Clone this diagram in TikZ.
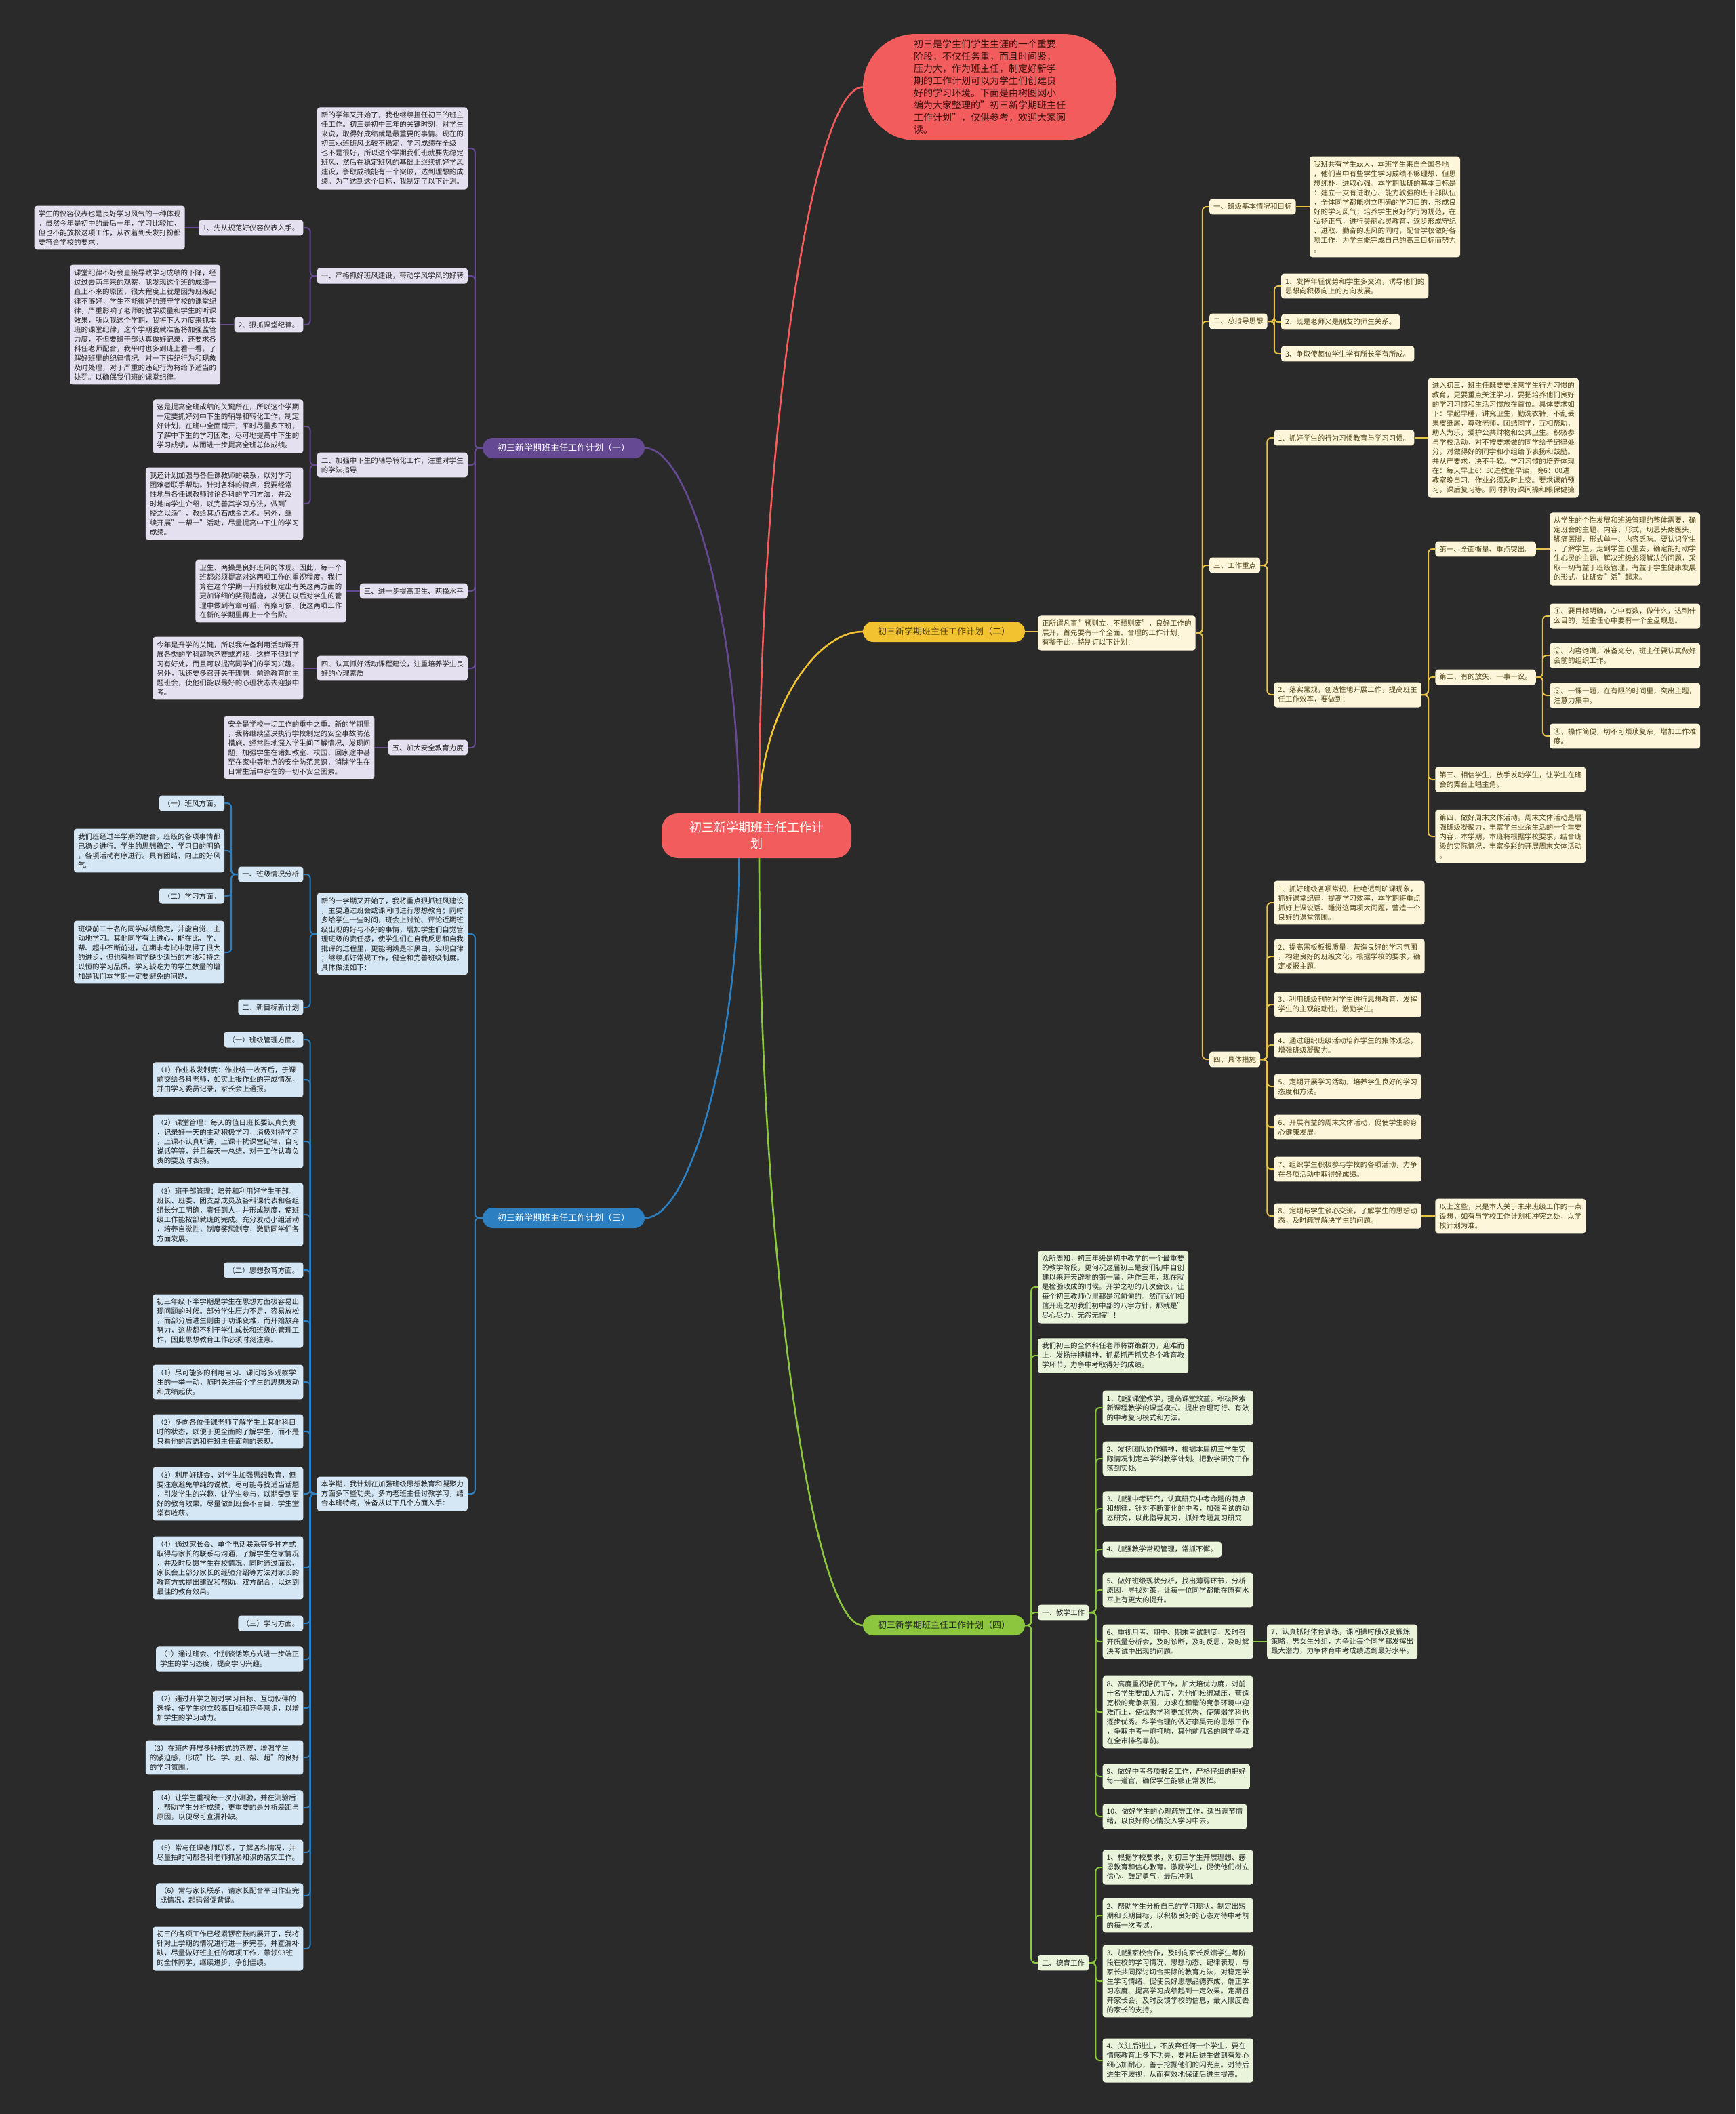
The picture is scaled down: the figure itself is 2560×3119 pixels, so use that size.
\documentclass[tikz,border=0pt]{standalone}
\usepackage{fontspec}
\setmainfont{Noto Sans CJK SC}
\usetikzlibrary{calc}
\definecolor{bgc}{HTML}{2A2A2A}
\definecolor{redc}{HTML}{F25C5C}
\definecolor{introtext}{HTML}{3A1010}
\definecolor{pcol}{HTML}{654A93}
\definecolor{pfill}{HTML}{E5E0EF}
\definecolor{ptext}{HTML}{262626}
\definecolor{ycol}{HTML}{F2C230}
\definecolor{yline}{HTML}{E9C24A}
\definecolor{yfill}{HTML}{FDF6DA}
\definecolor{ytext}{HTML}{4F4215}
\definecolor{bcol}{HTML}{2C7FC0}
\definecolor{bfill}{HTML}{D5E7F5}
\definecolor{btext}{HTML}{1E1E1E}
\definecolor{gcol}{HTML}{8CC63F}
\definecolor{gfill}{HTML}{E9F4DA}
\definecolor{gtext}{HTML}{262626}
\tikzset{
  boxbase/.style={rounded corners=4pt, inner xsep=6pt, inner ysep=6.5pt, align=left, font=\fontsize{10.5}{14}\selectfont},
  pbox/.style={boxbase, fill=pfill, text=ptext},
  ybox/.style={boxbase, fill=yfill, text=ytext},
  bbox/.style={boxbase, fill=bfill, text=btext},
  gbox/.style={boxbase, fill=gfill, text=gtext},
  pillnode/.style={rounded corners=15pt, minimum width=239pt, minimum height=30pt, inner sep=0pt, font=\fontsize{13}{16}\selectfont},
  ctrnode/.style={fill=redc, text=white, rounded corners=24pt, minimum width=280pt, minimum height=66pt, align=center, font=\fontsize{18}{24}\selectfont},
  intronode/.style={fill=redc, text=introtext, rounded corners=78pt, minimum width=374pt, minimum height=157pt, align=left, font=\fontsize{14}{18}\selectfont},
  plink/.style={draw=pcol, line width=2pt, rounded corners=6pt},
  ylink/.style={draw=yline, line width=2pt, rounded corners=6pt},
  blink/.style={draw=bcol, line width=2pt, rounded corners=6pt},
  glink/.style={draw=gcol, line width=2pt, rounded corners=6pt},
  mainlink/.style={line width=2.6pt}
}
\begin{document}
\begin{tikzpicture}[x=1pt,y=-1pt]
\fill[bgc] (0,0) rectangle (2560,3119);
\useasboundingbox (0,0) rectangle (2560,3119);

% ---------- root and intro ----------
\node[ctrnode] (ctr) at (1116,1233) {初三新学期班主任工作计\\划};
\node[intronode] (intro) at (1460,128.5) {初三是学生们学生生涯的一个重要\\阶段，不仅任务重，而且时间紧，\\压力大，作为班主任，制定好新学\\期的工作计划可以为学生们创建良\\好的学习环境。下面是由树图网小\\编为大家整理的"初三新学期班主任\\工作计划"，仅供参考，欢迎大家阅\\读。};

\node[pillnode, fill=pcol, text=white] (b1) at (831.5,661) {初三新学期班主任工作计划（一）};
\node[pillnode, fill=ycol, text=ytext] (b2) at (1392.5,932) {初三新学期班主任工作计划（二）};
\node[pillnode, fill=bcol, text=white] (b3) at (831.5,1797) {初三新学期班主任工作计划（三）};
\node[pillnode, fill=gcol, text=gtext] (b4) at (1392.5,2398) {初三新学期班主任工作计划（四）};

\coordinate (cL1) at ($(ctr.north)+(-26pt,0)$);
\coordinate (cR1) at ($(ctr.north)+(4pt,0)$);
\coordinate (cL2) at ($(ctr.south)+(-26pt,0)$);
\coordinate (cR2) at ($(ctr.south)+(4pt,0)$);
\draw[mainlink, draw=redc] (cR1) .. controls ($(cR1)!0.5!(cR1 |- intro.west)$) and ($(intro.west)!0.5!(cR1 |- intro.west)$) .. (intro.west);
\draw[mainlink, draw=ycol] (cR1) .. controls ($(cR1)!0.5!(cR1 |- b2.west)$) and ($(b2.west)!0.5!(cR1 |- b2.west)$) .. (b2.west);
\draw[mainlink, draw=pcol] (cL1) .. controls ($(cL1)!0.5!(cL1 |- b1.east)$) and ($(b1.east)!0.5!(cL1 |- b1.east)$) .. (b1.east);
\draw[mainlink, draw=bcol] (cL2) .. controls ($(cL2)!0.5!(cL2 |- b3.east)$) and ($(b3.east)!0.5!(cL2 |- b3.east)$) .. (b3.east);
\draw[mainlink, draw=gcol] (cR2) .. controls ($(cR2)!0.5!(cR2 |- b4.west)$) and ($(b4.west)!0.5!(cR2 |- b4.west)$) .. (b4.west);

% ---------- branch (一) ----------
\node[pbox, anchor=east] (p0) at (690,219) {新的学年又开始了，我也继续担任初三的班主\\任工作。初三是初中三年的关键时刻，对学生\\来说，取得好成绩就是最重要的事情。现在的\\初三xx班班风比较不稳定，学习成绩在全级\\也不是很好，所以这个学期我们班就要先稳定\\班风，然后在稳定班风的基础上继续抓好学风\\建设，争取成绩能有一个突破，达到理想的成\\绩。为了达到这个目标，我制定了以下计划。};
\node[pbox, anchor=east] (p1) at (690,407) {一、严格抓好班风建设，带动学风学风的好转};
\node[pbox, anchor=east] (p1a) at ($(p1.west |- 0,336)+(-20pt,0)$) {1、先从规范好仪容仪表入手。};
\node[pbox, anchor=east] (p1an) at ([xshift=-20pt]p1a.west) {学生的仪容仪表也是良好学习风气的一种体现\\。虽然今年是初中的最后一年，学习比较忙，\\但也不能放松这项工作，从衣着到头发打扮都\\要符合学校的要求。};
\node[pbox, anchor=east] (p1b) at ($(p1.west |- 0,479)+(-20pt,0)$) {2、狠抓课堂纪律。};
\node[pbox, anchor=east] (p1bn) at ([xshift=-20pt]p1b.west) {课堂纪律不好会直接导致学习成绩的下降，经\\过过去两年来的观察，我发现这个班的成绩一\\直上不来的原因，很大程度上就是因为班级纪\\律不够好，学生不能很好的遵守学校的课堂纪\\律，严重影响了老师的教学质量和学生的听课\\效果，所以我这个学期，我将下大力度来抓本\\班的课堂纪律，这个学期我就准备将加强监管\\力度，不但要班干部认真做好记录，还要求各\\科任老师配合，我平时也多到班上看一看，了\\解好班里的纪律情况。对一下违纪行为和现象\\及时处理，对于严重的违纪行为将给予适当的\\处罚。以确保我们班的课堂纪律。};
\node[pbox, anchor=east] (p2) at (690,686) {二、加强中下生的辅导转化工作，注重对学生\\的学法指导};
\node[pbox, anchor=east] (p2a) at ($(p2.west |- 0,629)+(-20pt,0)$) {这是提高全班成绩的关键所在，所以这个学期\\一定要抓好对中下生的辅导和转化工作，制定\\好计划，在班中全面铺开，平时尽量多下班，\\了解中下生的学习困难，尽可地提高中下生的\\学习成绩，从而进一步提高全班总体成绩。};
\node[pbox, anchor=east] (p2b) at ($(p2.west |- 0,743)+(-20pt,0)$) {我还计划加强与各任课教师的联系，以对学习\\困难者联手帮助。针对各科的特点，我要经常\\性地与各任课教师讨论各科的学习方法，并及\\时地向学生介绍，以完善其学习方法，做到"\\授之以渔"，教给其点石成金之术。另外，继\\续开展"一帮一"活动，尽量提高中下生的学习\\成绩。};
\node[pbox, anchor=east] (p3) at (690,872) {三、进一步提高卫生、两操水平};
\node[pbox, anchor=east] (p3n) at ([xshift=-20pt]p3.west) {卫生、两操是良好班风的体现。因此，每一个\\班都必须提高对这两项工作的重视程度。我打\\算在这个学期一开始就制定出有关这两方面的\\更加详细的奖罚措施，以便在以后对学生的管\\理中做到有章可循、有案可依，使这两项工作\\在新的学期里再上一个台阶。};
\node[pbox, anchor=east] (p4) at (690,986) {四、认真抓好活动课程建设，注重培养学生良\\好的心理素质};
\node[pbox, anchor=east] (p4n) at ([xshift=-20pt]p4.west) {今年是升学的关键，所以我准备利用活动课开\\展各类的学科趣味竞赛或游戏，这样不但对学\\习有好处，而且可以提高同学们的学习兴趣。\\另外，我还要多召开关于理想，前途教育的主\\题班会，使他们能以最好的心理状态去迎接中\\考。};
\node[pbox, anchor=east] (p5) at (690,1103) {五、加大安全教育力度};
\node[pbox, anchor=east] (p5n) at ([xshift=-20pt]p5.west) {安全是学校一切工作的重中之重。新的学期里\\，我将继续坚决执行学校制定的安全事故防范\\措施，经常性地深入学生间了解情况、发现问\\题，加强学生在诸如教室、校园、回家途中甚\\至在家中等地点的安全防范意识，消除学生在\\日常生活中存在的一切不安全因素。};

\foreach \c in {p0,p1,p2,p3,p4,p5} \draw[plink] (b1.west) -- ++(-11pt,0) |- (\c.east);
\draw[plink] (p1.west) -- ++(-10pt,0) |- (p1a.east);
\draw[plink] (p1.west) -- ++(-10pt,0) |- (p1b.east);
\draw[plink] (p1a.west) -- (p1an.east);
\draw[plink] (p1b.west) -- (p1bn.east);
\draw[plink] (p2.west) -- ++(-10pt,0) |- (p2a.east);
\draw[plink] (p2.west) -- ++(-10pt,0) |- (p2b.east);
\draw[plink] (p3.west) -- (p3n.east);
\draw[plink] (p4.west) -- (p4n.east);
\draw[plink] (p5.west) -- (p5n.east);

% ---------- branch (二) ----------
\node[ybox, anchor=west] (y0) at (1531,934) {正所谓凡事"预则立，不预则废"，良好工作的\\展开，首先要有一个全面、合理的工作计划，\\有鉴于此，特制订以下计划：};
\node[ybox, anchor=west] (y1) at ($(y0.east |- 0,305)+(20pt,0)$) {一、班级基本情况和目标};
\node[ybox, anchor=west] (y1n) at ([xshift=20pt]y1.east) {我班共有学生xx人，本班学生来自全国各地\\，他们当中有些学生学习成绩不够理想，但思\\想纯朴，进取心强。本学期我班的基本目标是\\：建立一支有进取心、能力较强的班干部队伍\\，全体同学都能树立明确的学习目的，形成良\\好的学习风气；培养学生良好的行为规范，在\\弘扬正气，进行美丽心灵教育，逐步形成守纪\\、进取、勤奋的班风的同时，配合学校做好各\\项工作，为学生能完成自己的高三目标而努力\\。};
\node[ybox, anchor=west] (y2) at ($(y0.east |- 0,474)+(20pt,0)$) {二、总指导思想};
\node[ybox, anchor=west] (y2a) at ($(y2.east |- 0,422)+(20pt,0)$) {1、发挥年轻优势和学生多交流，诱导他们的\\思想向积极向上的方向发展。};
\node[ybox, anchor=west] (y2b) at ($(y2.east |- 0,475)+(20pt,0)$) {2、既是老师又是朋友的师生关系。};
\node[ybox, anchor=west] (y2c) at ($(y2.east |- 0,522)+(20pt,0)$) {3、争取使每位学生学有所长学有所成。};
\node[ybox, anchor=west] (y3) at ($(y0.east |- 0,834)+(20pt,0)$) {三、工作重点};
\node[ybox, anchor=west] (y3a) at ($(y3.east |- 0,646)+(20pt,0)$) {1、抓好学生的行为习惯教育与学习习惯。};
\node[ybox, anchor=west] (y3an) at ([xshift=20pt]y3a.east) {进入初三，班主任既要要注意学生行为习惯的\\教育，更要重点关注学习，要把培养他们良好\\的学习习惯和生活习惯放在首位。具体要求如\\下：早起早睡，讲究卫生，勤洗衣裤，不乱丢\\果皮纸屑，尊敬老师，团结同学，互相帮助，\\助人为乐，爱护公共财物和公共卫生。积极参\\与学校活动，对不按要求做的同学给予纪律处\\分，对做得好的同学和小组给予表扬和鼓励。\\并从严要求，决不手软。学习习惯的培养体现\\在：每天早上6：50进教室早读，晚6：00进\\教室晚自习。作业必须及时上交。要求课前预\\习，课后复习等。同时抓好课间操和眼保健操};
\node[ybox, anchor=west] (y3b) at ($(y3.east |- 0,1025)+(20pt,0)$) {2、落实常规，创造性地开展工作，提高班主\\任工作效率，要做到：};
\node[ybox, anchor=west] (y3b1) at ($(y3b.east |- 0,810)+(20pt,0)$) {第一、全面衡量、重点突出。};
\node[ybox, anchor=west] (y3b1n) at ([xshift=20pt]y3b1.east) {从学生的个性发展和班级管理的整体需要，确\\定班会的主题、内容、形式，切忌头疼医头，\\脚痛医脚，形式单一、内容乏味。要认识学生\\、了解学生，走到学生心里去，确定能打动学\\生心灵的主题、解决班级必须解决的问题，采\\取一切有益于班级管理，有益于学生健康发展\\的形式，让班会"活"起来。};
\node[ybox, anchor=west] (y3b2) at ($(y3b.east |- 0,999)+(20pt,0)$) {第二、有的放矢、一事一议。};
\node[ybox, anchor=west] (y3b2a) at ($(y3b2.east |- 0,909)+(20pt,0)$) {①、要目标明确，心中有数，做什么，达到什\\么目的，班主任心中要有一个全盘规划。};
\node[ybox, anchor=west] (y3b2b) at ($(y3b2.east |- 0,967)+(20pt,0)$) {②、内容饱满，准备充分，班主任要认真做好\\会前的组织工作。};
\node[ybox, anchor=west] (y3b2c) at ($(y3b2.east |- 0,1026)+(20pt,0)$) {③、一课一题，在有限的时间里，突出主题，\\注意力集中。};
\node[ybox, anchor=west] (y3b2d) at ($(y3b2.east |- 0,1086)+(20pt,0)$) {④、操作简便，切不可烦琐复杂，增加工作难\\度。};
\node[ybox, anchor=west] (y3b3) at ($(y3b.east |- 0,1150)+(20pt,0)$) {第三、相信学生，放手发动学生，让学生在班\\会的舞台上唱主角。};
\node[ybox, anchor=west] (y3b4) at ($(y3b.east |- 0,1234)+(20pt,0)$) {第四、做好周末文体活动。周末文体活动是增\\强班级凝聚力，丰富学生业余生活的一个重要\\内容，本学期，本班将根据学校要求，结合班\\级的实际情况，丰富多彩的开展周末文体活动\\。};
\node[ybox, anchor=west] (y4) at ($(y0.east |- 0,1563)+(20pt,0)$) {四、具体措施};
\node[ybox, anchor=west] (y4a) at ($(y4.east |- 0,1332)+(20pt,0)$) {1、抓好班级各项常规，杜绝迟到旷课现象，\\抓好课堂纪律，提高学习效率，本学期将重点\\抓好上课说话、睡觉这两项大问题，营造一个\\良好的课堂氛围。};
\node[ybox, anchor=west] (y4b) at ($(y4.east |- 0,1411)+(20pt,0)$) {2、提高黑板板报质量，营造良好的学习氛围\\，构建良好的班级文化。根据学校的要求，确\\定板报主题。};
\node[ybox, anchor=west] (y4c) at ($(y4.east |- 0,1482)+(20pt,0)$) {3、利用班级刊物对学生进行思想教育，发挥\\学生的主观能动性，激励学生。};
\node[ybox, anchor=west] (y4d) at ($(y4.east |- 0,1542)+(20pt,0)$) {4、通过组织班级活动培养学生的集体观念，\\增强班级凝聚力。};
\node[ybox, anchor=west] (y4e) at ($(y4.east |- 0,1603)+(20pt,0)$) {5、定期开展学习活动，培养学生良好的学习\\态度和方法。};
\node[ybox, anchor=west] (y4f) at ($(y4.east |- 0,1663)+(20pt,0)$) {6、开展有益的周末文体活动，促使学生的身\\心健康发展。};
\node[ybox, anchor=west] (y4g) at ($(y4.east |- 0,1725)+(20pt,0)$) {7、组织学生积极参与学校的各项活动，力争\\在各项活动中取得好成绩。};
\node[ybox, anchor=west] (y4h) at ($(y4.east |- 0,1794)+(20pt,0)$) {8、定期与学生谈心交流，了解学生的思想动\\态，及时疏导解决学生的问题。};
\node[ybox, anchor=west] (y4hn) at ([xshift=20pt]y4h.east) {以上这些，只是本人关于未来班级工作的一点\\设想，如有与学校工作计划相冲突之处，以学\\校计划为准。};

\draw[ylink] (b2.east) -- (b2.east -| y0.west);
\foreach \c in {y1,y2,y3,y4} \draw[ylink] (y0.east) -- ++(10pt,0) |- (\c.west);
\draw[ylink] (y1.east) -- (y1n.west);
\foreach \c in {y2a,y2b,y2c} \draw[ylink] (y2.east) -- ++(10pt,0) |- (\c.west);
\foreach \c in {y3a,y3b} \draw[ylink] (y3.east) -- ++(10pt,0) |- (\c.west);
\draw[ylink] (y3a.east) -- (y3an.west);
\foreach \c in {y3b1,y3b2,y3b3,y3b4} \draw[ylink] (y3b.east) -- ++(10pt,0) |- (\c.west);
\draw[ylink] (y3b1.east) -- (y3b1n.west);
\foreach \c in {y3b2a,y3b2b,y3b2c,y3b2d} \draw[ylink] (y3b2.east) -- ++(10pt,0) |- (\c.west);
\foreach \c in {y4a,y4b,y4c,y4d,y4e,y4f,y4g,y4h} \draw[ylink] (y4.east) -- ++(10pt,0) |- (\c.west);
\draw[ylink] (y4h.east) -- (y4hn.west);

% ---------- branch (三) ----------
\node[bbox, anchor=east] (ba) at (690,1378) {新的一学期又开始了，我将重点狠抓班风建设\\，主要通过班会或课间时进行思想教育；同时\\多给学生一些时间，班会上讨论、评论近期班\\级出现的好与不好的事情，增加学生们自觉管\\理班级的责任感，使学生们在自我反思和自我\\批评的过程里，更能明辨是非黑白，实现自律\\；继续抓好常规工作，健全和完善班级制度。\\具体做法如下：};
\node[bbox, anchor=east] (ba1) at ($(ba.west |- 0,1290)+(-20pt,0)$) {一、班级情况分析};
\node[bbox, anchor=east] (ba1a) at ($(ba1.west |- 0,1185)+(-20pt,0)$) {（一）班风方面。};
\node[bbox, anchor=east] (ba1b) at ($(ba1.west |- 0,1255)+(-20pt,0)$) {我们班经过半学期的磨合，班级的各项事情都\\已稳步进行。学生的思想稳定，学习目的明确\\，各项活动有序进行。具有团结、向上的好风\\气。};
\node[bbox, anchor=east] (ba1c) at ($(ba1.west |- 0,1322)+(-20pt,0)$) {（二）学习方面。};
\node[bbox, anchor=east] (ba1d) at ($(ba1.west |- 0,1405)+(-20pt,0)$) {班级前二十名的同学成绩稳定，并能自觉、主\\动地学习。其他同学有上进心，能在比、学、\\帮、超中不断前进，在期末考试中取得了很大\\的进步，但也有些同学缺少适当的方法和持之\\以恒的学习品质。学习较吃力的学生数量的增\\加是我们本学期一定要避免的问题。};
\node[bbox, anchor=east] (ba2) at ($(ba.west |- 0,1486)+(-20pt,0)$) {二、新目标新计划};
\node[bbox, anchor=east] (bb) at (690,2204) {本学期，我计划在加强班级思想教育和凝聚力\\方面多下些功夫，多向老班主任讨教学习，结\\合本班特点，准备从以下几个方面入手：};
\node[bbox, anchor=east] (bb1) at ($(bb.west |- 0,1534)+(-20pt,0)$) {（一）班级管理方面。};
\node[bbox, anchor=east] (bb2) at ($(bb.west |- 0,1593)+(-20pt,0)$) {（1）作业收发制度：作业统一收齐后，于课\\前交给各科老师，如实上报作业的完成情况，\\并由学习委员记录，家长会上通报。};
\node[bbox, anchor=east] (bb3) at ($(bb.west |- 0,1684)+(-20pt,0)$) {（2）课堂管理：每天的值日班长要认真负责\\，记录好一天的主动积极学习，消极对待学习\\，上课不认真听讲，上课干扰课堂纪律，自习\\说话等等，并且每天一总结，对于工作认真负\\责的要及时表扬。};
\node[bbox, anchor=east] (bb4) at ($(bb.west |- 0,1792)+(-20pt,0)$) {（3）班干部管理：培养和利用好学生干部。\\班长、班委、团支部成员及各科课代表和各组\\组长分工明确，责任到人，并形成制度，使班\\级工作能按部就班的完成。充分发动小组活动\\，培养自觉性，制度奖惩制度，激励同学们各\\方面发展。};
\node[bbox, anchor=east] (bb5) at ($(bb.west |- 0,1874)+(-20pt,0)$) {（二）思想教育方面。};
\node[bbox, anchor=east] (bb6) at ($(bb.west |- 0,1949)+(-20pt,0)$) {初三年级下半学期是学生在思想方面极容易出\\现问题的时候。部分学生压力不足，容易放松\\，而部分后进生则由于功课变难，而开始放弃\\努力，这些都不利于学生成长和班级的管理工\\作，因此思想教育工作必须时刻注意。};
\node[bbox, anchor=east] (bb7) at ($(bb.west |- 0,2039)+(-20pt,0)$) {（1）尽可能多的利用自习、课间等多观察学\\生的一举一动，随时关注每个学生的思想波动\\和成绩起伏。};
\node[bbox, anchor=east] (bb8) at ($(bb.west |- 0,2112)+(-20pt,0)$) {（2）多向各位任课老师了解学生上其他科目\\时的状态，以便于更全面的了解学生，而不是\\只看他的言语和在班主任面前的表现。};
\node[bbox, anchor=east] (bb9) at ($(bb.west |- 0,2204)+(-20pt,0)$) {（3）利用好班会，对学生加强思想教育，但\\要注意避免单纯的说教，尽可能寻找适当话题\\，引发学生的兴趣，让学生参与，以期受到更\\好的教育效果。尽量做到班会不盲目，学生堂\\堂有收获。};
\node[bbox, anchor=east] (bb10) at ($(bb.west |- 0,2313)+(-20pt,0)$) {（4）通过家长会、单个电话联系等多种方式\\取得与家长的联系与沟通，了解学生在家情况\\，并及时反馈学生在校情况。同时通过面谈、\\家长会上部分家长的经验介绍等方法对家长的\\教育方式提出建议和帮助。双方配合，以达到\\最佳的教育效果。};
\node[bbox, anchor=east] (bb11) at ($(bb.west |- 0,2395)+(-20pt,0)$) {（三）学习方面。};
\node[bbox, anchor=east] (bb12) at ($(bb.west |- 0,2448)+(-20pt,0)$) {（1）通过班会、个别谈话等方式进一步端正\\学生的学习态度，提高学习兴趣。};
\node[bbox, anchor=east] (bb13) at ($(bb.west |- 0,2520)+(-20pt,0)$) {（2）通过开学之初对学习目标、互助伙伴的\\选择，使学生树立较高目标和竞争意识，以增\\加学生的学习动力。};
\node[bbox, anchor=east] (bb14) at ($(bb.west |- 0,2593)+(-20pt,0)$) {（3）在班内开展多种形式的竞赛，增强学生\\的紧迫感，形成"比、学、赶、帮、超"的良好\\的学习氛围。};
\node[bbox, anchor=east] (bb15) at ($(bb.west |- 0,2667)+(-20pt,0)$) {（4）让学生重视每一次小测验，并在测验后\\，帮助学生分析成绩，更重要的是分析差距与\\原因，以便尽可查漏补缺。};
\node[bbox, anchor=east] (bb16) at ($(bb.west |- 0,2733)+(-20pt,0)$) {（5）常与任课老师联系，了解各科情况，并\\尽量抽时间帮各科老师抓紧知识的落实工作。};
\node[bbox, anchor=east] (bb17) at ($(bb.west |- 0,2797)+(-20pt,0)$) {（6）常与家长联系，请家长配合平日作业完\\成情况，起码督促背诵。};
\node[bbox, anchor=east] (bb18) at ($(bb.west |- 0,2875)+(-20pt,0)$) {初三的各项工作已经紧锣密鼓的展开了，我将\\针对上学期的情况进行进一步完善，并查漏补\\缺，尽量做好班主任的每项工作，带领93班\\的全体同学，继续进步，争创佳绩。};

\foreach \c in {ba,bb} \draw[blink] (b3.west) -- ++(-11pt,0) |- (\c.east);
\foreach \c in {ba1,ba2} \draw[blink] (ba.west) -- ++(-10pt,0) |- (\c.east);
\foreach \c in {ba1a,ba1b,ba1c,ba1d} \draw[blink] (ba1.west) -- ++(-10pt,0) |- (\c.east);
\foreach \c in {bb1,bb2,bb3,bb4,bb5,bb6,bb7,bb8,bb9,bb10,bb11,bb12,bb13,bb14,bb15,bb16,bb17,bb18} \draw[blink] (bb.west) -- ++(-10pt,0) |- (\c.east);

% ---------- branch (四) ----------
\node[gbox, anchor=west] (g0) at (1531,1899) {众所周知，初三年级是初中教学的一个最重要\\的教学阶段，更何况这届初三是我们初中自创\\建以来开天辟地的第一届。耕作三年，现在就\\是检验收成的时候。开学之初的几次会议，让\\每个初三教师心里都是沉甸甸的。然而我们相\\信开班之初我们初中部的八字方针，那就是"\\尽心尽力，无怨无悔"！};
\node[gbox, anchor=west] (g1) at (1531,2000) {我们初三的全体科任老师将群策群力，迎难而\\上，发扬拼搏精神，抓紧抓严抓实各个教育教\\学环节，力争中考取得好的成绩。};
\node[gbox, anchor=west] (g2) at (1531,2379) {一、教学工作};
\node[gbox, anchor=west] (g3) at (1531,2896) {二、德育工作};
\node[gbox, anchor=west] (g2a) at ($(g2.east |- 0,2077)+(20pt,0)$) {1、加强课堂教学，提高课堂效益，积极探索\\新课程教学的课堂模式。提出合理可行、有效\\的中考复习模式和方法。};
\node[gbox, anchor=west] (g2b) at ($(g2.east |- 0,2152)+(20pt,0)$) {2、发扬团队协作精神，根据本届初三学生实\\际情况制定本学科教学计划。把教学研究工作\\落到实处。};
\node[gbox, anchor=west] (g2c) at ($(g2.east |- 0,2226)+(20pt,0)$) {3、加强中考研究，认真研究中考命题的特点\\和规律，针对不断变化的中考，加强考试的动\\态研究，以此指导复习，抓好专题复习研究};
\node[gbox, anchor=west] (g2d) at ($(g2.east |- 0,2286)+(20pt,0)$) {4、加强教学常规管理，常抓不懈。};
\node[gbox, anchor=west] (g2e) at ($(g2.east |- 0,2346)+(20pt,0)$) {5、做好班级现状分析，找出薄弱环节，分析\\原因，寻找对策，让每一位同学都能在原有水\\平上有更大的提升。};
\node[gbox, anchor=west] (g2f) at ($(g2.east |- 0,2422)+(20pt,0)$) {6、重视月考、期中、期末考试制度，及时召\\开质量分析会，及时诊断，及时反思，及时解\\决考试中出现的问题。};
\node[gbox, anchor=west] (g2fn) at ([xshift=20pt]g2f.east) {7、认真抓好体育训练，课间操时段改变锻炼\\策略，男女生分组，力争让每个同学都发挥出\\最大潜力，力争体育中考成绩达到最好水平。};
\node[gbox, anchor=west] (g2g) at ($(g2.east |- 0,2526)+(20pt,0)$) {8、高度重视培优工作，加大培优力度，对前\\十名学生要加大力度，为他们松绑减压，营造\\宽松的竞争氛围，力求在和谐的竞争环境中迎\\难而上，使优秀学科更加优秀，使薄弱学科也\\逐步优秀。科学合理的做好李昊元的思想工作\\，争取中考一炮打响，其他前几名的同学争取\\在全市排名靠前。};
\node[gbox, anchor=west] (g2h) at ($(g2.east |- 0,2621)+(20pt,0)$) {9、做好中考各项报名工作，严格仔细的把好\\每一道官，确保学生能够正常发挥。};
\node[gbox, anchor=west] (g2i) at ($(g2.east |- 0,2680)+(20pt,0)$) {10、做好学生的心理疏导工作，适当调节情\\绪，以良好的心情投入学习中去。};
\node[gbox, anchor=west] (g3a) at ($(g3.east |- 0,2755)+(20pt,0)$) {1、根据学校要求，对初三学生开展理想、感\\恩教育和信心教育。激励学生，促使他们树立\\信心，鼓足勇气，最后冲刺。};
\node[gbox, anchor=west] (g3b) at ($(g3.east |- 0,2826)+(20pt,0)$) {2、帮助学生分析自己的学习现状，制定出短\\期和长期目标，以积极良好的心态对待中考前\\的每一次考试。};
\node[gbox, anchor=west] (g3c) at ($(g3.east |- 0,2923)+(20pt,0)$) {3、加强家校合作，及时向家长反馈学生每阶\\段在校的学习情况、思想动态、纪律表现，与\\家长共同探讨切合实际的教育方法，对稳定学\\生学习情绪、促使良好思想品德养成、端正学\\习态度、提高学习成绩起到一定效果。定期召\\开家长会，及时反馈学校的信息，最大限度去\\的家长的支持。};
\node[gbox, anchor=west] (g3d) at ($(g3.east |- 0,3040)+(20pt,0)$) {4、关注后进生，不放弃任何一个学生，要在\\情感教育上多下功夫，要对后进生做到有爱心\\细心加耐心，善于挖掘他们的闪光点。对待后\\进生不歧视，从而有效地保证后进生提高。};

\foreach \c in {g0,g1,g2,g3} \draw[glink] (b4.east) -- ++(9pt,0) |- (\c.west);
\foreach \c in {g2a,g2b,g2c,g2d,g2e,g2f,g2g,g2h,g2i} \draw[glink] (g2.east) -- ++(10pt,0) |- (\c.west);
\draw[glink] (g2f.east) -- (g2fn.west);
\foreach \c in {g3a,g3b,g3c,g3d} \draw[glink] (g3.east) -- ++(10pt,0) |- (\c.west);
\end{tikzpicture}
\end{document}
